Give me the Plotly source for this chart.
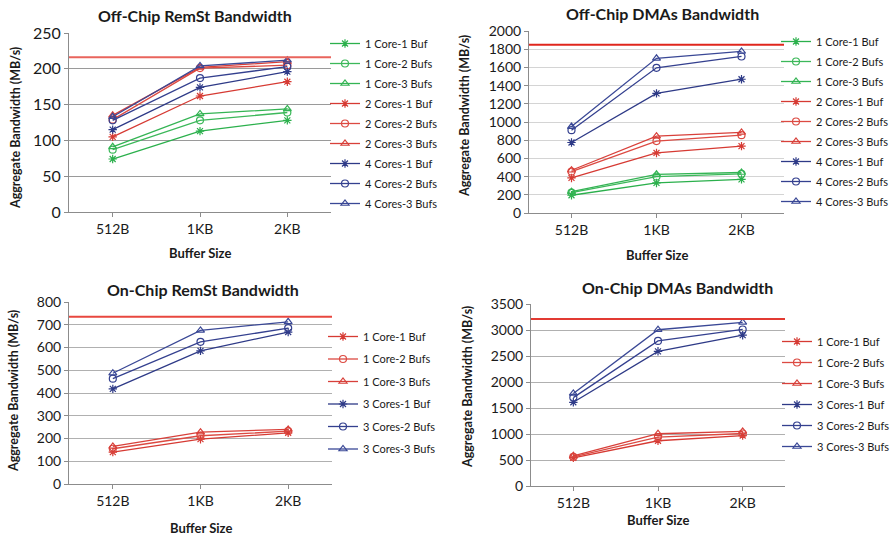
import plotly.graph_objects as go

categories = ["512B", "1KB", "2KB"]

# Panel 1: Off-Chip RemSt Bandwidth
p1_names = ["1 Core-1 Buf", "1 Core-2 Bufs", "1 Core-3 Bufs",
            "2 Cores-1 Buf", "2 Cores-2 Bufs", "2 Cores-3 Bufs",
            "4 Cores-1 Buf", "4 Cores-2 Bufs", "4 Cores-3 Bufs"]
p1_values = [
    [74, 113, 128],
    [87, 128, 139],
    [91, 137, 144],
    [105, 162, 182],
    [129, 201, 205],
    [135, 202, 210],
    [115, 174, 196],
    [128, 187, 203],
    [133, 204, 212],
]
p1_limit = 216

# Panel 2: Off-Chip DMAs Bandwidth
p2_names = p1_names
p2_values = [
    [195, 330, 370],
    [225, 400, 430],
    [235, 425, 445],
    [385, 660, 735],
    [455, 790, 855],
    [470, 845, 885],
    [775, 1315, 1470],
    [910, 1595, 1720],
    [950, 1700, 1775],
]
p2_limit = 1850

# Panel 3: On-Chip RemSt Bandwidth
p3_names = ["1 Core-1 Buf", "1 Core-2 Bufs", "1 Core-3 Bufs",
            "3 Cores-1 Buf", "3 Cores-2 Bufs", "3 Cores-3 Bufs"]
p3_values = [
    [140, 197, 225],
    [155, 212, 232],
    [165, 228, 240],
    [418, 585, 668],
    [463, 625, 685],
    [487, 675, 713],
]
p3_limit = 735

# Panel 4: On-Chip DMAs Bandwidth
p4_names = p3_names
p4_values = [
    [540, 870, 970],
    [560, 940, 1010],
    [580, 1005, 1050],
    [1610, 2590, 2900],
    [1700, 2790, 3010],
    [1780, 3005, 3145],
]
p4_limit = 3210

titles = ["Off-Chip RemSt Bandwidth", "Off-Chip DMAs Bandwidth",
          "On-Chip RemSt Bandwidth", "On-Chip DMAs Bandwidth"]
y_ranges = [[0, 250], [0, 2000], [0, 800], [0, 3500]]
y_dticks = [50, 200, 100, 500]

GREEN = ["#2bb04c", "#3cb85a", "#34b454"]
RED = ["#d63a33", "#dc4a42", "#d8403a"]
BLUE = ["#2e3a87", "#34408f", "#3a4896"]
SYMBOLS = ["asterisk-open", "circle-open", "triangle-up-open"]

FONT = "Lato, 'Open Sans', sans-serif"
TXT = "#1a1a1a"

panels = [
    dict(names=p1_names, values=p1_values, limit=p1_limit, colors=GREEN + RED + BLUE),
    dict(names=p2_names, values=p2_values, limit=p2_limit, colors=GREEN + RED + BLUE),
    dict(names=p3_names, values=p3_values, limit=p3_limit, colors=RED + BLUE),
    dict(names=p4_names, values=p4_values, limit=p4_limit, colors=RED + BLUE),
]

W, H = 894, 540
# plot areas in pixels: (left, right, top, bottom)
areas = [(69, 331, 33, 212), (529, 784, 31, 213), (69, 332, 302, 484), (531, 785, 304, 486)]
legend_pos = [(325, 29), (776, 27), (323, 322), (777, 327)]
legend_gap = [1, 1, 3.5, 2]
title_pos = [(195, 15), (662, 14), (203, 289), (677, 287)]
xtitle_y = [253, 255, 528, 520]
ytitle_x = [15, 465, 13, 467]
ytitle_y = [128, 116, 391, 387]
ytick_size = [16, 14, 14, 14]
grid_colors = ["#9a9a9a", "#d4d4d4", "#b0b0b0", "#b0b0b0"]
limit_colors = ["#e9645c", "#e0261c", "#e8473f", "#e23a32"]

fig = go.Figure()
layout = dict(
    width=W, height=H, margin=dict(l=0, r=0, t=0, b=0, autoexpand=False),
    paper_bgcolor="white", plot_bgcolor="white",
    font=dict(family=FONT, color=TXT),
    annotations=[], shapes=[],
)

for i, p in enumerate(panels):
    k = i + 1
    xa = "x" if k == 1 else f"x{k}"
    ya = "y" if k == 1 else f"y{k}"
    leg = "legend" if k == 1 else f"legend{k}"
    for j, (name, vals) in enumerate(zip(p["names"], p["values"])):
        fig.add_trace(go.Scatter(
            x=categories, y=vals, name=name, mode="lines+markers",
            xaxis=xa, yaxis=ya, legend=leg, legendgroup=f"g{k}_{j}",
            line=dict(color=p["colors"][j], width=1.3),
            marker=dict(symbol=SYMBOLS[j % 3], size=7, color=p["colors"][j],
                        line=dict(color=p["colors"][j], width=1.2)),
        ))
    l, r, t, b = areas[i]
    axkey_x = "xaxis" if k == 1 else f"xaxis{k}"
    axkey_y = "yaxis" if k == 1 else f"yaxis{k}"
    layout[axkey_x] = dict(
        domain=[l / W, r / W], anchor=ya, type="category",
        range=[-0.5, 2.5], showgrid=False, showline=True, linecolor="#8c8c8c",
        linewidth=1, ticks="outside", ticklen=4, tickcolor="#8c8c8c",
        tickfont=dict(size=14, color=TXT), fixedrange=True, automargin=False,
    )
    layout[axkey_y] = dict(
        domain=[1 - b / H, 1 - t / H], anchor=xa,
        range=y_ranges[i], dtick=y_dticks[i], showgrid=True, gridcolor=grid_colors[i],
        gridwidth=1, showline=True, linecolor="#8c8c8c", linewidth=1,
        ticks="outside", ticklen=4, tickcolor="#8c8c8c", zeroline=False,
        tickfont=dict(size=ytick_size[i], color=TXT), fixedrange=True, automargin=False,
    )
    lx, ly = legend_pos[i]
    layout[leg] = dict(
        x=lx / W, y=1 - ly / H, xanchor="left", yanchor="top",
        font=dict(size=11, color=TXT, family=FONT), bgcolor="rgba(0,0,0,0)",
        itemwidth=30, tracegroupgap=legend_gap[i], traceorder="grouped",
    )
    layout["shapes"].append(dict(
        type="line", xref=f"{xa} domain", yref=ya, x0=0, x1=1,
        y0=p["limit"], y1=p["limit"], line=dict(color=limit_colors[i], width=2),
    ))
    tx, ty = title_pos[i]
    layout["annotations"].append(dict(
        text=f"<b>{titles[i]}</b>", x=tx / W, y=1 - ty / H, xref="paper", yref="paper",
        xanchor="center", yanchor="middle", showarrow=False,
        font=dict(size=16, color=TXT, family=FONT),
    ))
    layout["annotations"].append(dict(
        text="<b>Buffer Size</b>", x=((l + r) / 2) / W, y=1 - xtitle_y[i] / H,
        xref="paper", yref="paper", xanchor="center", yanchor="middle",
        showarrow=False, font=dict(size=13, color=TXT, family=FONT),
    ))
    layout["annotations"].append(dict(
        text="<b>Aggregate Bandwidth (MB/s)</b>", x=ytitle_x[i] / W,
        y=1 - ytitle_y[i] / H, xref="paper", yref="paper",
        xanchor="center", yanchor="middle", textangle=-90,
        showarrow=False, font=dict(size=12.5, color=TXT, family=FONT),
    ))

fig.update_layout(**layout)
fig.write_html("out.html", config={"displayModeBar": False})

# remove the browser's default page margin so the figure sits at (0, 0)
with open("out.html", "r", encoding="utf-8") as f:
    html = f.read()
html = html.replace("<body>", '<body style="margin:0;padding:0;">', 1)
with open("out.html", "w", encoding="utf-8") as f:
    f.write(html)
